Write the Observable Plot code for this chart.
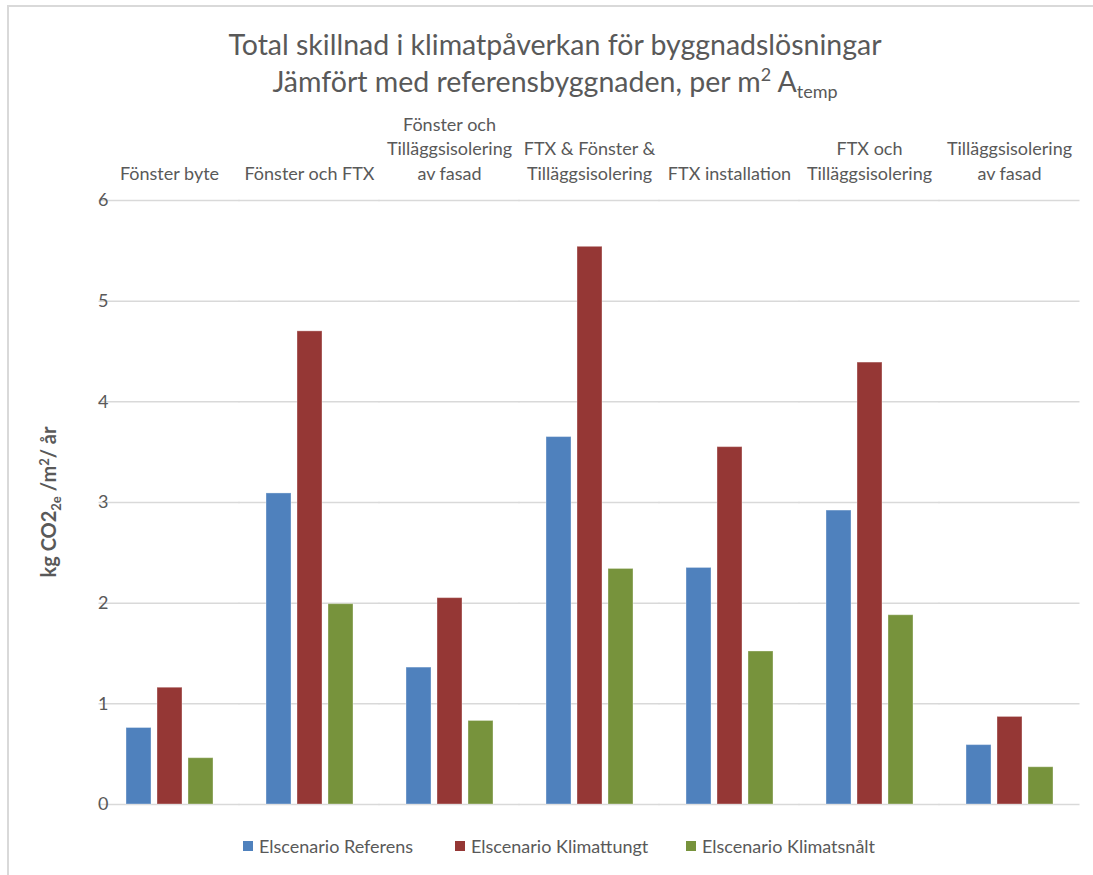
<!DOCTYPE html>
<html lang="sv">
<head>
<meta charset="utf-8">
<script src="https://cdn.jsdelivr.net/npm/d3@7"></script>
<script src="https://cdn.jsdelivr.net/npm/@observablehq/plot@0.6"></script>
<style>
  html, body { margin: 0; padding: 0; background: #fff; }
  #chart {
    position: relative; width: 1093px; height: 875px; overflow: hidden;
    font-family: Lato, "Open Sans", sans-serif; color: #595959;
  }
  .frame {
    position: absolute; left: 7px; top: 5px; right: -10px; bottom: -10px;
    border-top: 2px solid #d9d9d9; border-left: 2px solid #d9d9d9;
  }
  .title {
    position: absolute; left: 0; width: 1110px; text-align: center;
    font-size: 28.5px; line-height: 1; white-space: nowrap;
  }
  .title sup, .title sub { font-size: 18px; }
  .ylabel {
    position: absolute; left: 50px; top: 502px;
    transform: translate(-50%, -50%) rotate(-90deg);
    font-size: 20px; font-weight: bold; white-space: nowrap;
  }
  .ylabel sub, .ylabel sup { font-size: 13px; }
  #plot { position: absolute; left: 0; top: 100px; }
  .legend { position: absolute; top: 835px; left: 0; width: 1093px; height: 22px; }
  .legend span.item {
    position: absolute; top: 0; display: flex; align-items: center; gap: 6px;
    font-size: 18px; line-height: 22px; white-space: nowrap;
  }
  .legend span.sw { width: 10px; height: 10px; display: inline-block; }
</style>
</head>
<body>
<div id="chart">
  <div class="frame"></div>
  <div class="title" style="top:30px">Total skillnad i klimatpåverkan för byggnadslösningar</div>
  <div class="title" style="top:65px">Jämfört med referensbyggnaden, per m<sup>2</sup> A<sub>temp</sub></div>
  <div class="ylabel">kg CO2<sub>2e</sub> /m<sup>2</sup>/ år</div>
  <div id="plot"></div>
  <div class="legend" id="legend"></div>
</div>
<script>
// Byggnadslösningar (kategorier) och deras axeletiketter
const kategorier = [
  "Fönster byte",
  "Fönster och FTX",
  "Fönster och Tilläggsisolering av fasad",
  "FTX & Fönster & Tilläggsisolering",
  "FTX installation",
  "FTX och Tilläggsisolering",
  "Tilläggsisolering av fasad"
];
const kategoriEtiketter = [
  "Fönster byte",
  "Fönster och FTX",
  "Fönster och\nTilläggsisolering\nav fasad",
  "FTX & Fönster &\nTilläggsisolering",
  "FTX installation",
  "FTX och\nTilläggsisolering",
  "Tilläggsisolering\nav fasad"
];

// Serier
const serier = ["Elscenario Referens", "Elscenario Klimattungt", "Elscenario Klimatsnålt"];
const serieFarger = ["#4f81bd", "#953735", "#77933c"];

// Värden, kg CO2e per m² och år
const referens    = [0.76, 3.09, 1.36, 3.65, 2.35, 2.92, 0.59];
const klimattungt = [1.16, 4.70, 2.05, 5.54, 3.55, 4.39, 0.87];
const klimatsnalt = [0.46, 1.99, 0.83, 2.34, 1.52, 1.88, 0.37];

const yTicks = [0, 1, 2, 3, 4, 5, 6];

const serieVarden = [referens, klimattungt, klimatsnalt];
const data = kategorier.flatMap((k, i) =>
  serier.map((s, j) => ({ kategori: k, serie: s, varde: serieVarden[j][i] }))
);

const etikett = new Map(kategorier.map((k, i) => [k, kategoriEtiketter[i]]));
const textColor = "#595959";

const chart = Plot.plot({
  width: 1093,
  height: 724,
  marginTop: 100,
  marginBottom: 20,
  marginLeft: 97,
  marginRight: 13,
  style: { fontFamily: "Lato, 'Open Sans', sans-serif", fontSize: "18px", color: textColor, background: "transparent" },
  fx: { domain: kategorier, paddingInner: 0.373, paddingOuter: 0.1865 },
  x: { domain: serier, paddingInner: 0.206, paddingOuter: 0, axis: null },
  y: { domain: [0, 6], axis: null },
  color: { domain: serier, range: serieFarger },
  marks: [
    // rutnätet förlängs ut i mellanrummen så att linjerna blir sammanhängande
    Plot.gridY(yTicks, {
      stroke: "#d9d9d9", strokeOpacity: 1, strokeWidth: 1.5,
      insetLeft: -26.5, insetRight: -26.5
    }),
    Plot.axisY(yTicks, {
      tickSize: 0, tickPadding: 17, fontSize: 18, fill: textColor, label: null,
      tickFormat: (d) => String(d)
    }),
    Plot.axisFx({
      anchor: "top", tickSize: 0, tickPadding: 21, fontSize: 18, lineHeight: 1.36,
      fill: textColor, label: null, tickFormat: (d) => etikett.get(d)
    }),
    Plot.barY(data, {
      fx: "kategori", x: "serie", y: "varde", fill: "serie",
      stroke: "#ffffff", strokeOpacity: 0.35, strokeWidth: 1
    })
  ]
});
document.getElementById("plot").appendChild(chart);

// Förklaring under diagrammet
const legendLeft = [243, 455, 686];
const legend = d3.select("#legend");
serier.forEach((s, i) => {
  const item = legend.append("span").attr("class", "item").style("left", legendLeft[i] + "px");
  item.append("span").attr("class", "sw").style("background", serieFarger[i]);
  item.append("span").text(s);
});
</script>
</body>
</html>
